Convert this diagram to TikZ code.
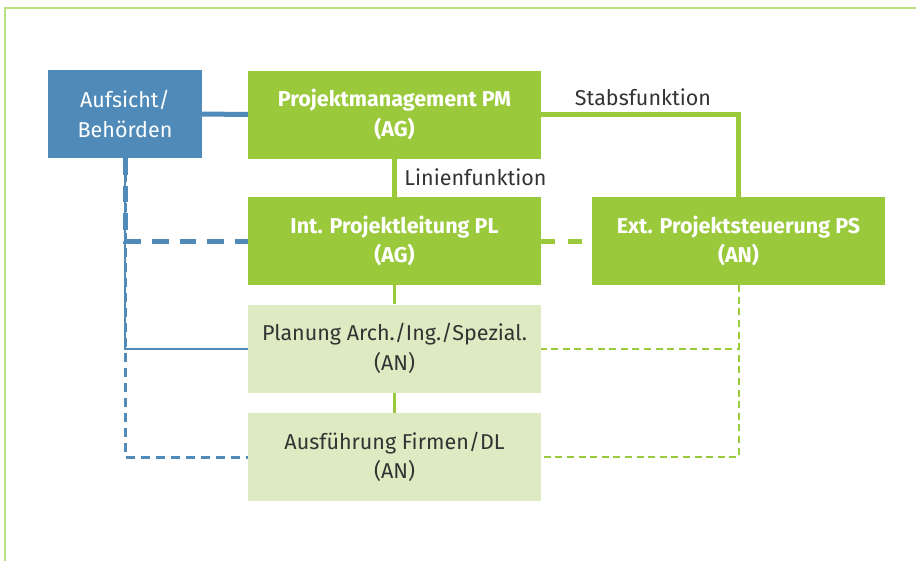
\documentclass[tikz,border=0pt]{standalone}
\usepackage{fontspec}
\setmainfont{Fira Sans}
\usetikzlibrary{backgrounds}
\definecolor{cblue}{HTML}{4F8AB8}
\definecolor{cgreen}{HTML}{9ACA3C}
\definecolor{clight}{HTML}{DEEAC1}
\definecolor{cframe}{HTML}{B9DF80}
\definecolor{ctext}{HTML}{333333}
\tikzset{
  box/.style={rectangle, inner sep=0pt, minimum width=293pt, minimum height=88pt, align=center,
    font=\fontsize{21.5}{29.5}\selectfont},
  darkbox/.style={box, fill=cgreen, text=white, font=\fontsize{21.5}{29.5}\selectfont\bfseries},
  lightbox/.style={box, fill=clight, text=ctext},
  bluebox/.style={box, fill=cblue, text=white, minimum width=154pt},
  lbl/.style={text=ctext, font=\fontsize{21.5}{24}\selectfont, inner sep=0pt, anchor=base},
  gthick/.style={draw=cgreen, line width=5pt},
  gthin/.style={draw=cgreen, line width=2.2pt},
  gdash/.style={draw=cgreen, line width=5pt, dash pattern=on 14pt off 13pt},
  gthindash/.style={draw=cgreen, line width=2pt, dash pattern=on 7pt off 4.6pt},
  bthick/.style={draw=cblue, line width=5pt},
  bdash/.style={draw=cblue, line width=5pt, dash pattern=on 16.5pt off 11pt},
  bthin/.style={draw=cblue, line width=2pt},
  bmeddash/.style={draw=cblue, line width=3pt, dash pattern=on 9pt off 6pt},
}
\begin{document}
\begin{tikzpicture}[x=1pt,y=-1pt]
\useasboundingbox (0,0) rectangle (916,560);
\draw[cframe, line width=2pt] (5,561) -- (5,8) -- (917,8);

\node[bluebox] (auf) at (125,114) {Aufsicht/\\Behörden};
\node[darkbox] (pm) at (394.5,114.5) {Projektmanagement PM\\(AG)};
\node[darkbox] (pl) at (394.5,241) {Int. Projektleitung PL\\(AG)};
\node[darkbox] (ps) at (738.5,241) {Ext. Projektsteuerung PS\\(AN)};
\node[lightbox] (plan) at (394.5,348.5) {Planung Arch./Ing./Spezial.\\(AN)};
\node[lightbox] (aus) at (394.5,457) {Ausführung Firmen/DL\\(AN)};

\node[lbl] (stabs) at (643,105) {Stabsfunktion};
\node[lbl] (linien) at (475.5,185) {Linienfunktion};

\begin{scope}[on background layer]
\draw[bthick] (auf.east) -- (pm.west);
\draw[gthick] (pm.east) -| (ps.north);
\draw[gthick] (pm.south) -- (pl.north);
\draw[gdash] (pl.east) -- (ps.west);
\draw[gthin] (pl.south) -- (plan.north);
\draw[gthin] (plan.south) -- (aus.north);
\draw[gthindash] (ps.south) |- (plan.east);
\draw[gthindash] (ps.south) |- (aus.east);
\draw[bthin] (auf.south) |- (plan.west);
\draw[bmeddash] (auf.south) |- (aus.west);
\draw[bdash] (auf.south) |- (pl.west);
\end{scope}
\end{tikzpicture}
\end{document}
